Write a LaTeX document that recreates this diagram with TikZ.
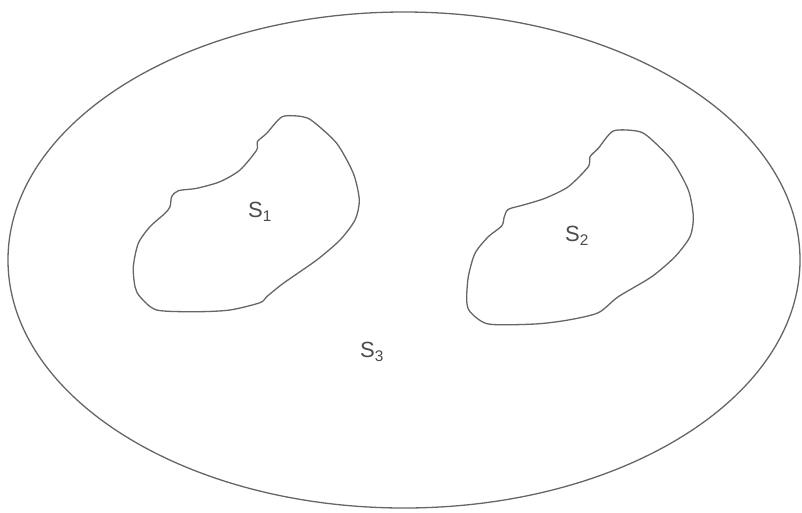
\documentclass[tikz,border=0pt]{standalone}
\usepackage{fontspec}
\setmainfont{Liberation Sans}
\begin{document}
\begin{tikzpicture}[x=1pt,y=-1pt,
  outline/.style={draw=black!60,line width=1.3pt},
  lbl/.style={text=black!70,font=\fontsize{22}{24}\selectfont,inner sep=0pt}]
\useasboundingbox (0,0) rectangle (802,512);
\fill[white] (0,0) rectangle (802,512);
\draw[outline] (404,260) ellipse [x radius=396, y radius=248];
\draw[outline] plot[smooth cycle,tension=0.45] coordinates {
 (282.3,116.7) (302.7,116.7) (313.3,121.7) (336.7,143.3) (353.3,173.3) (359.3,200)
 (355,220) (340,240) (316.7,260) (283.3,283.3) (266.7,296.7) (260,302.7)
 (230,310) (196.7,311.7) (156.7,310) (140,296.7) (135,286.7) (133.3,266.7)
 (138.3,243.3) (150,226.7) (165,213.3) (170,206.7) (171.7,196.7) (178.3,190.7)
 (196.7,188.3) (220,181.7) (240,170) (256.7,150) (257.3,141.7) (266.7,133.3)};
\draw[outline] plot[smooth cycle,tension=0.45] coordinates {
 (613.3,131) (636.7,131) (648.3,136.7) (671.7,160) (688.3,190) (693.3,216.7)
 (690,236.7) (675,256.7) (651.7,276.7) (618.3,296.7) (598.3,312.7) (568.3,320)
 (535,324) (488.3,324) (470,311.7) (466.7,300) (468.3,276.7) (475,253.3)
 (488.3,236.7) (501.7,226) (504.3,216.7) (508.3,209.3) (523.3,205) (545,198.3)
 (568.3,186.7) (588.3,166.7) (590,156.7) (598.3,148.3)};
\node[lbl] (s1) at (260,212) {S\textsubscript{1}};
\node[lbl] (s2) at (577,236) {S\textsubscript{2}};
\node[lbl] (s3) at (372,352) {S\textsubscript{3}};
\end{tikzpicture}
\end{document}
